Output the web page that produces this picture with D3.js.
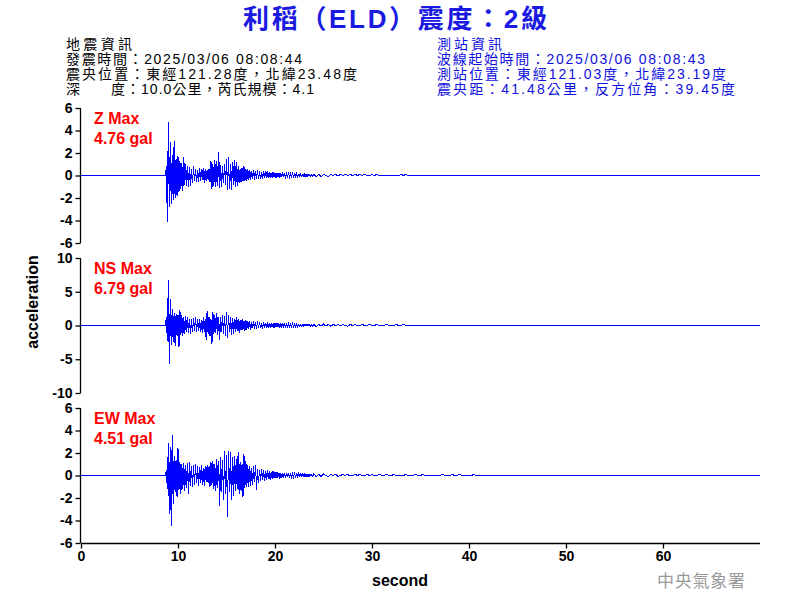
<!DOCTYPE html>
<html>
<head>
<meta charset="utf-8">
<script src="https://cdn.jsdelivr.net/npm/d3@7/dist/d3.min.js"></script>
<style>
  html, body { margin: 0; padding: 0; background: #fff; }
  svg { display: block; }
  text { font-family: "Liberation Sans", Arial, "Noto Sans CJK TC", sans-serif; }
</style>
</head>
<body>
<svg id="chart" width="800" height="600"></svg>
<script>
// ---------------- data ----------------
const titleText = "利稻（ELD）震度：2級";
const quakeInfo = ["地震資訊", "發震時間：2025/03/06 08:08:44", "震央位置：東經121.28度，北緯23.48度", "深　　度：10.0公里，芮氏規模：4.1"];
const stationInfo = ["測站資訊", "波線起始時間：2025/03/06 08:08:43", "測站位置：東經121.03度，北緯23.19度", "震央距：41.48公里，反方位角：39.45度"];
const channels = ["Z", "NS", "EW"];
const maxValues = ["4.76", "6.79", "4.51"];
const yLimits = [6, 10, 6];
const yTicksZ = [-6, -4, -2, 0, 2, 4, 6];
const yTicksNS = [-10, -5, 0, 5, 10];
const yTicksEW = [-6, -4, -2, 0, 2, 4, 6];
const xTicks = [0, 10, 20, 30, 40, 50, 60];
const xDomain = [0, 70];
const onsetTime = 8.8;   // first sample of the dense records (s)
const denseStep = 0.1;   // s
const tailStart = 24;    // s
const tailStep = 0.25;   // s

// acceleration (gal), dense part from 8.8 s
const zDense = [0.8, -4.1,
  4.76, -2.8, 3.0, -2.5, 1.8, -2.2, 3.1, -2.0, 1.5, -1.8,
  1.7, -1.5, 1.3, -1.2, 1.1, -1.4, 1.6, -0.8, 1.0, -0.9,
  0.8, -1.0, 0.75, -0.9, 0.6, -0.7, 0.8, -0.5, 0.6, -0.6,
  0.5, -0.6, 0.7, -0.5, 0.6, -0.4, 0.7, -0.7, 0.6, -0.5,
  0.5, -0.4, 0.6, -0.6, 1.25, -1.2, 1.0, -0.9, 1.4, -1.0,
  1.3, -0.9, 2.05, -1.1, 0.9, -1.0, 0.8, -0.7, 1.0, -0.8,
  1.5, -1.3, 1.6, -1.2, 1.0, -1.3, 1.2, -0.8, 1.4, -1.0,
  1.2, -0.9, 0.8, -0.7, 0.6, -0.6, 0.7, -0.5, 0.85, -0.5,
  0.6, -0.5, 0.6, -0.4, 0.5, -0.4, 0.4, -0.3, 0.5, -0.4,
  0.4, -0.3, 0.45, -0.3, 0.35, -0.3, 0.3, -0.35, 0.4, -0.25,
  0.35, -0.2, 0.4, -0.25, 0.3, -0.2, 0.25, -0.2, 0.3, -0.15,
  0.25, -0.2, 0.2, -0.15, 0.25, -0.2, 0.2, -0.1, 0.2, -0.15,
  0.2, -0.15, 0.15, -0.1, 0.2, -0.15, 0.15, -0.1, 0.2, -0.1,
  0.15, -0.1, 0.2, -0.15, 0.1, -0.1, 0.15, -0.1, 0.1, -0.1,
  0.15, -0.1, 0.1, -0.1, 0.15, -0.05, 0.1, -0.1, 0.1, -0.05];
const nsDense = [1.2, -2.3,
  6.79, -5.7, 3.9, -2.9, 2.5, -2.4, 1.8, -3.0, 1.7, -1.5,
  1.6, -3.2, 2.3, -1.4, 1.5, -1.6, 1.2, -1.3, 1.4, -1.0,
  1.2, -1.1, 1.0, -1.3, 0.9, -1.0, 1.1, -0.8, 1.3, -0.9,
  1.0, -0.8, 0.9, -1.0, 0.8, -1.1, 1.2, -0.9, 1.0, -2.1,
  2.2, -1.2, 1.3, -1.5, 1.0, -2.7, 2.0, -1.3, 1.5, -1.1,
  1.9, -1.4, 1.2, -2.1, 1.3, -1.0, 1.6, -1.2, 1.4, -1.5,
  2.0, -1.8, 1.5, -1.0, 1.3, -1.4, 1.1, -1.2, 1.0, -0.9,
  1.2, -0.8, 1.0, -1.1, 0.8, -0.7, 0.9, -0.6, 0.7, -0.8,
  0.8, -0.6, 0.7, -0.5, 0.6, -0.7, 0.5, -0.4, 0.6, -0.5,
  0.5, -0.5, 0.6, -0.4, 0.5, -0.4, 0.4, -0.5, 0.45, -0.3,
  0.4, -0.3, 0.45, -0.35, 0.3, -0.3, 0.35, -0.25, 0.3, -0.3,
  0.3, -0.25, 0.35, -0.2, 0.3, -0.3, 0.25, -0.2, 0.3, -0.15,
  0.25, -0.2, 0.2, -0.25, 0.3, -0.15, 0.2, -0.2, 0.25, -0.15,
  0.2, -0.15, 0.25, -0.2, 0.15, -0.15, 0.2, -0.1, 0.15, -0.15,
  0.2, -0.1, 0.15, -0.1, 0.2, -0.1, 0.15, -0.1, 0.1, -0.1];
const ewDense = [0.5, -1.2,
  2.9, -3.4, 2.5, -4.51, 3.6, -2.5, 1.7, -1.5, 1.4, -1.9,
  2.4, -1.3, 1.2, -1.6, 1.0, -1.2, 1.1, -1.4, 0.9, -1.1,
  1.1, -1.6, 1.2, -0.9, 0.8, -1.0, 0.9, -0.8, 1.0, -0.7,
  0.8, -0.9, 0.75, -0.7, 0.9, -0.8, 0.7, -0.9, 0.8, -0.6,
  0.9, -0.7, 0.8, -1.0, 1.2, -0.8, 1.3, -1.2, 1.0, -1.4,
  1.5, -1.1, 1.3, -2.7, 1.6, -1.5, 1.4, -2.2, 2.2, -1.6,
  1.8, -3.65, 2.2, -1.5, 2.1, -2.2, 1.6, -1.8, 1.7, -1.4,
  1.5, -1.2, 2.1, -1.6, 1.2, -1.4, 1.0, -1.9, 1.9, -1.1,
  1.3, -1.0, 0.9, -1.0, 0.8, -0.9, 0.7, -0.8, 0.8, -0.6,
  0.9, -1.3, 0.6, -0.7, 0.5, -0.5, 0.6, -0.4, 0.5, -0.5,
  0.4, -0.4, 0.45, -0.3, 0.35, -0.4, 0.3, -0.3, 0.4, -0.25,
  0.3, -0.25, 0.3, -0.2, 0.25, -0.3, 0.2, -0.2, 0.25, -0.2,
  0.2, -0.2, 0.25, -0.15, 0.2, -0.2, 0.2, -0.15, 0.15, -0.15,
  0.2, -0.1, 0.15, -0.15, 0.2, -0.1, 0.15, -0.1, 0.15, -0.1,
  0.15, -0.1, 0.1, -0.1, 0.15, -0.1, 0.1, -0.05, 0.1, -0.1];

// coda, from 24 s
const zTail = [0.1, -0.1, 0.1, -0.1, 0.1, 0, -0.1, 0.1, 0, 0.1,
  -0.05, 0.1, 0, 0.1, 0, 0.1, 0, 0.1, 0, 0.1,
  0, 0.1, 0, 0, 0.1, 0, 0.1, 0, 0, 0,
  0, 0, 0, 0, 0, 0, 0.1, 0, 0.1, 0];
const nsTail = [0.2, -0.15, 0.15, -0.1, 0.2, -0.1, 0.15, -0.1, 0.15, 0,
  0.15, 0, 0.15, 0, -0.1, 0.15, 0, 0.15, 0, 0,
  0.15, 0, 0, 0.15, 0, 0, 0.15, 0, 0, 0,
  0.15, 0, 0, 0, 0.15, 0, 0, 0.15, 0, 0];
const ewTail = [0.15, -0.1, 0.1, -0.1, 0.15, 0, -0.1, 0.1, 0, 0.1,
  -0.1, 0, 0.1, 0, 0.1, -0.05, 0, 0.1, 0, 0.1,
  0, 0, 0.1, 0, 0.1, 0, 0, 0.1, 0, 0,
  0.1, 0, 0, 0.1, 0, 0,
  0, 0, 0.1, 0, 0, 0, 0.1, 0, 0, 0.1,
  0, 0, 0, 0, 0, 0, 0, 0.1, 0, 0,
  0, 0.1, 0, 0, 0.1, 0, 0, 0, 0, 0,
  0.1, 0];

// ---------------- drawing ----------------
const svg = d3.select("#chart");
const W = 800, H = 600;
const plotLeft = 81, plotRight = 760;
const panelTops = [108, 258, 408];
const panelH = 135;
const blue = "#0000ff";

svg.append("rect").attr("width", W).attr("height", H).attr("fill", "#fff");

// Title
svg.append("text")
  .attr("x", 243).attr("y", 28)
  .attr("textLength", 304).attr("lengthAdjust", "spacing")
  .attr("font-size", 26).attr("font-weight", "bold")
  .attr("fill", "#1a1ae0")
  .text(titleText);

// header info (widths as measured on the reference)
const lineYs = [49, 64, 79, 94];
const quakeWidths = [66, 236, 291, 248];
const stationWidths = [65, 268, 289, 298];
svg.append("g").selectAll("text").data(quakeInfo).join("text")
  .attr("x", 66).attr("y", (d, i) => lineYs[i])
  .attr("textLength", (d, i) => quakeWidths[i]).attr("lengthAdjust", "spacing")
  .attr("font-size", 14).attr("fill", "#000")
  .text(d => d);
svg.append("g").selectAll("text").data(stationInfo).join("text")
  .attr("x", 437).attr("y", (d, i) => lineYs[i])
  .attr("textLength", (d, i) => stationWidths[i]).attr("lengthAdjust", "spacing")
  .attr("font-size", 14).attr("fill", "#1010e0")
  .text(d => d);

const x = d3.scaleLinear().domain(xDomain).range([plotLeft, plotRight]);

function buildSeries(dense, tail) {
  const pts = [[xDomain[0], 0], [onsetTime - denseStep, 0]];
  dense.forEach((v, i) => pts.push([onsetTime + i * denseStep, v]));
  tail.forEach((v, i) => pts.push([tailStart + i * tailStep, v]));
  pts.push([xDomain[1], 0]);
  return pts;
}
const series = [buildSeries(zDense, zTail), buildSeries(nsDense, nsTail), buildSeries(ewDense, ewTail)];
const yTickSets = [yTicksZ, yTicksNS, yTicksEW];
const fmt = d => String(d);

channels.forEach((ch, k) => {
  const top = panelTops[k];
  const y = d3.scaleLinear().domain([-yLimits[k], yLimits[k]]).range([top + panelH, top]);
  const g = svg.append("g");

  // trace
  g.append("path")
    .datum(series[k])
    .attr("fill", "none")
    .attr("stroke", blue)
    .attr("stroke-width", 1)
    .attr("shape-rendering", "crispEdges")
    .attr("d", d3.line().x(d => x(d[0])).y(d => y(d[1])));

  // y axis
  const ya = g.append("g")
    .attr("transform", `translate(${plotLeft - 0.5},0)`)
    .call(d3.axisLeft(y).tickValues(yTickSets[k]).tickSize(5).tickPadding(3).tickFormat(fmt));
  ya.select(".domain").attr("stroke", "#000").attr("stroke-width", 1.3).attr("d", `M0,${top}V${top + panelH}`);
  ya.selectAll(".tick line").attr("stroke", "#000").attr("stroke-width", 1.3);
  ya.selectAll(".tick text")
    .attr("font-family", "'Liberation Sans', Arial, sans-serif")
    .attr("font-size", 14).attr("font-weight", "bold").attr("fill", "#000");

  // max label
  const lab = g.append("g").attr("fill", "#ff0000").attr("font-size", 16).attr("font-weight", "bold");
  lab.append("text").attr("x", 94).attr("y", top + 16).text(`${ch} Max`);
  lab.append("text").attr("x", 94).attr("y", top + 36).text(`${maxValues[k]} gal`);

  // x axis on bottom panel
  if (k === channels.length - 1) {
    const xa = g.append("g")
      .attr("transform", `translate(0,${top + panelH + 0.5})`)
      .call(d3.axisBottom(x).tickValues(xTicks).tickSize(5).tickPadding(3).tickFormat(fmt));
    xa.select(".domain").attr("stroke", "#000").attr("stroke-width", 1.3).attr("d", `M${plotLeft},0H${plotRight}`);
    xa.selectAll(".tick line").attr("stroke", "#000").attr("stroke-width", 1.3);
    xa.selectAll(".tick text")
      .attr("font-family", "'Liberation Sans', Arial, sans-serif")
      .attr("font-size", 14).attr("font-weight", "bold").attr("fill", "#000");
  }
});

// axis titles
svg.append("text")
  .attr("x", 400).attr("y", 586)
  .attr("text-anchor", "middle")
  .attr("font-size", 16).attr("font-weight", "bold").attr("fill", "#000")
  .text("second");
svg.append("text")
  .attr("transform", "translate(38,302) rotate(-90)")
  .attr("text-anchor", "middle")
  .attr("font-size", 16).attr("font-weight", "bold").attr("fill", "#000")
  .text("acceleration");

// agency mark
svg.append("text")
  .attr("x", 657).attr("y", 587)
  .attr("textLength", 88).attr("lengthAdjust", "spacing")
  .attr("font-size", 17).attr("fill", "#9a9a9a")
  .attr("font-family", "'Noto Sans CJK TC', sans-serif")
  .text("中央氣象署");
</script>
</body>
</html>
